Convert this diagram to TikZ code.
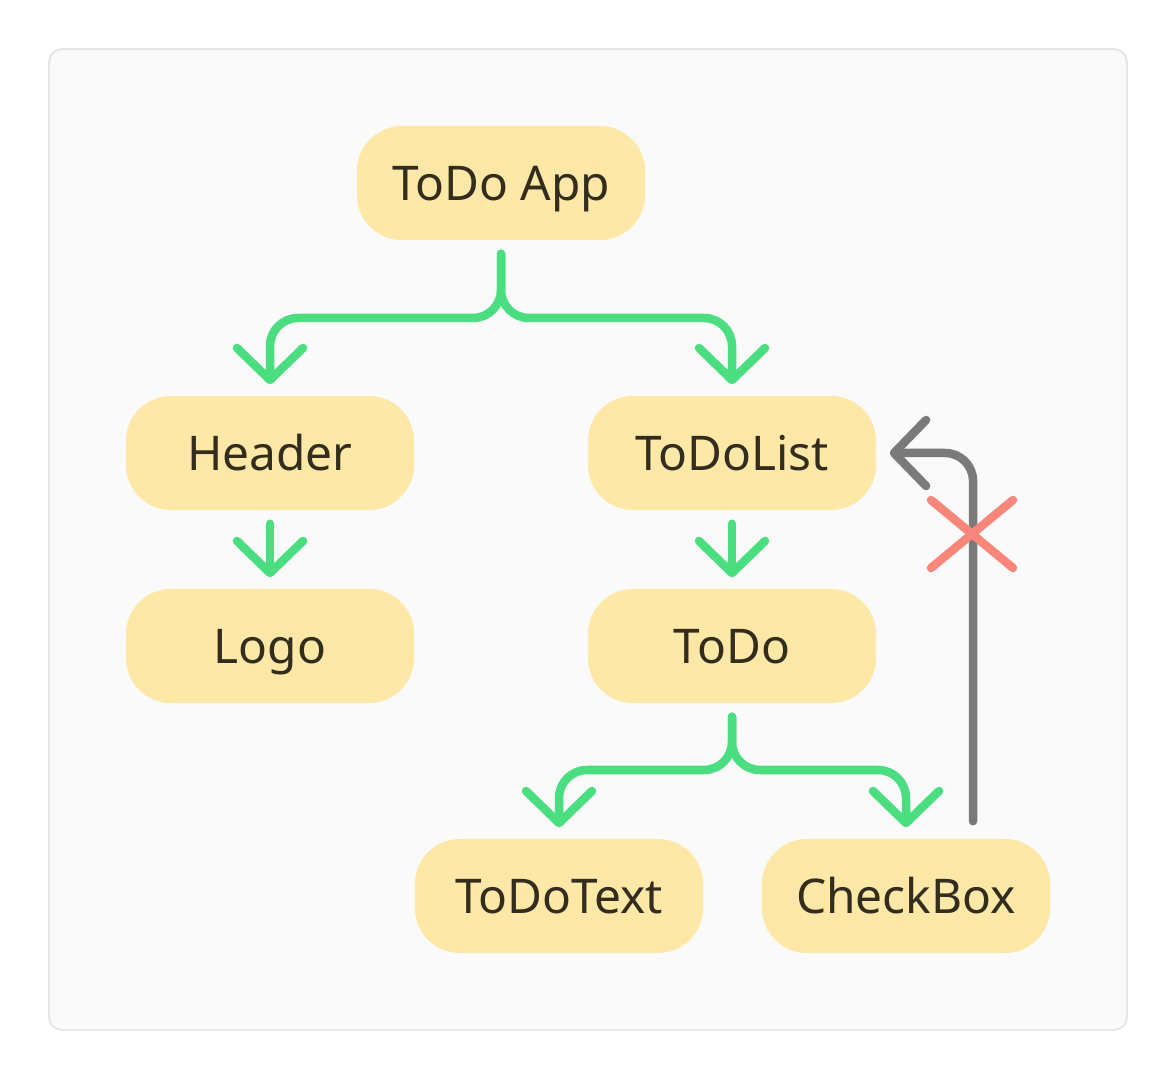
\documentclass[tikz,border=0pt]{standalone}
\usepackage{fontspec}
\setmainfont{Noto Sans}
\usetikzlibrary{arrows.meta}

\definecolor{panel}{RGB}{250,250,250}
\definecolor{panelline}{RGB}{230,230,230}
\definecolor{card}{RGB}{254,232,167}
\definecolor{ink}{RGB}{51,45,30}
\definecolor{flowgreen}{RGB}{74,222,128}
\definecolor{backgray}{RGB}{122,122,122}
\definecolor{crossred}{RGB}{248,134,122}

\begin{document}
\begin{tikzpicture}[
        x=0.01cm, y=-0.01cm,
        every node/.style={font=\fontsize{13.6}{16}\selectfont, text=ink},
        comp/.style={rectangle, rounded corners=0.45cm, fill=card,
            minimum width=2.88cm, minimum height=1.14cm, inner sep=0pt,
            text height=0.34cm, text depth=0pt},
        tip/.style={-{Straight Barb[length=0.32cm, width=0.66cm, line join=round, line cap=round]}},
        flow/.style={draw=flowgreen, line width=0.085cm, line cap=round,
            rounded corners=0.28cm, tip, shorten <=0.13cm, shorten >=0.11cm},
        backflow/.style={draw=backgray, line width=0.085cm, line cap=round,
            rounded corners=0.28cm, tip, shorten <=0.17cm, shorten >=0.13cm},
        cross/.style={draw=crossred, line width=0.085cm, line cap=round}
    ]

        \useasboundingbox (0,0) rectangle (1176,1080);

        %--------------------------------
        % Fundo
        %--------------------------------
        \path[fill=panel, draw=panelline, line width=0.02cm, rounded corners=0.13cm]
            (49,49) rectangle (1127,1030);

        %--------------------------------
        % Componentes
        %--------------------------------
        \foreach \n/\x/\y/\t in {app/501/183/ToDo App,
                                 header/270/453/Header,
                                 todolist/732/453/ToDoList,
                                 logo/270/646/Logo,
                                 todo/732/646/ToDo,
                                 todotext/559/896/ToDoText,
                                 checkbox/906/896/CheckBox}
            \node[comp] (\n) at (\x,\y) {\t};

        \coordinate (fork1) at (501,318);
        \coordinate (fork2) at (732,770);

        %--------------------------------
        % Fluxo de dados
        %--------------------------------
        \draw[flow] (app.south) -- (fork1) -| (header.north);
        \draw[flow] (app.south) -- (fork1) -| (todolist.north);
        \draw[flow] (header.south) -- (logo.north);
        \draw[flow] (todolist.south) -- (todo.north);
        \draw[flow] (todo.south) -- (fork2) -| (todotext.north);
        \draw[flow] (todo.south) -- (fork2) -| (checkbox.north);

        %--------------------------------
        % Retorno bloqueado
        %--------------------------------
        \draw[backflow] ([xshift=0.67cm]checkbox.north) |- (todolist.east);

        \coordinate (cutmark) at (972,534);
        \draw[cross] (cutmark) ++(-41,-34) -- ++(82,68);
        \draw[cross] (cutmark) ++(-41,34) -- ++(82,-68);

    \end{tikzpicture}
\end{document}
